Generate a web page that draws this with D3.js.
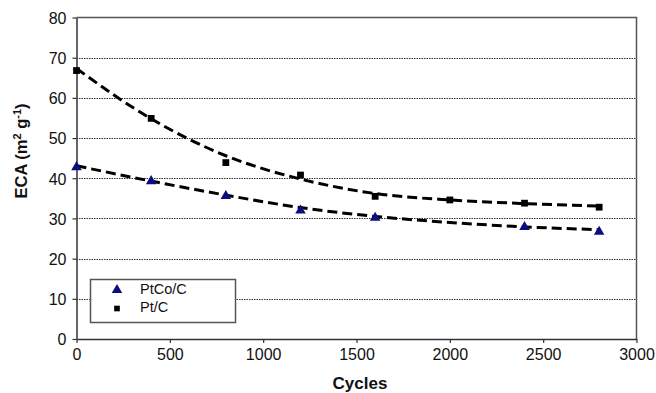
<!DOCTYPE html>
<html>
<head>
<meta charset="utf-8">
<script src="https://cdn.jsdelivr.net/npm/d3@7"></script>
<style>
  body { margin: 0; background: #fff; }
  svg { display: block; font-family: Arial, "Liberation Sans", sans-serif; }
</style>
</head>
<body>
<div id="chart"></div>
<script>
// measured points
const ptcoCycles = [0, 400, 800, 1200, 1600, 2400, 2800];
const ptcoEca = [42.9, 39.4, 35.7, 32.1, 30.3, 28.0, 26.8];
const ptCycles = [0, 400, 800, 1200, 1600, 2000, 2400, 2800];
const ptEca = [66.8, 54.9, 43.9, 40.8, 35.5, 34.6, 33.8, 32.8];

// dashed trend lines
const trendCycles = [0, 400, 800, 1200, 1600, 2000, 2400, 2800];
const ptcoTrend = [43.1, 39.3, 35.8, 32.7, 30.5, 29.0, 27.9, 27.2];
const ptTrend = [67.3, 54.8, 45.6, 39.8, 36.2, 34.6, 33.7, 33.1];

const xTicks = [0, 500, 1000, 1500, 2000, 2500, 3000];
const yTicks = [0, 10, 20, 30, 40, 50, 60, 70, 80];

const width = 656, height = 393;
const margin = { top: 17.5, right: 19.5, bottom: 54, left: 76.5 };

const svg = d3.select('#chart')
    .append('svg')
    .attr('width', width)
    .attr('height', height);

const x = d3.scaleLinear().domain([0, 3000]).range([margin.left, width - margin.right]);
const y = d3.scaleLinear().domain([0, 80]).range([height - margin.bottom, margin.top]);

// dotted grid
svg.append('g')
    .selectAll('line')
    .data(yTicks.filter(d => d > 0 && d < 80))
    .enter()
    .append('line')
    .attr('x1', x(0))
    .attr('x2', x(3000))
    .attr('y1', d => Math.round(y(d)) + 0.5)
    .attr('y2', d => Math.round(y(d)) + 0.5)
    .attr('stroke', '#333')
    .attr('stroke-width', 1)
    .attr('stroke-dasharray', '1.5,1');

// plot frame (top and right)
svg.append('path')
    .attr('d', `M${x(0)},${y(80)}H${x(3000)}V${y(0)}`)
    .attr('fill', 'none')
    .attr('stroke', '#555')
    .attr('stroke-width', 1.5);

const xAxis = svg.append('g')
    .attr('transform', `translate(0,${y(0)})`)
    .call(d3.axisBottom(x).tickValues(xTicks).tickFormat(d3.format('d'))
        .tickSize(4).tickSizeOuter(0).tickPadding(6));

const yAxis = svg.append('g')
    .attr('transform', `translate(${x(0)},0)`)
    .call(d3.axisLeft(y).tickValues(yTicks).tickSize(4).tickSizeOuter(0).tickPadding(6));

[xAxis, yAxis].forEach(g => {
    g.select('.domain').attr('stroke', '#333').attr('stroke-width', 1.5);
    g.selectAll('.tick line').attr('stroke', '#333').attr('stroke-width', 1.2);
    g.selectAll('.tick text')
        .attr('fill', '#111')
        .style('font-size', '16px')
        .style('font-family', 'Arial, "Liberation Sans", sans-serif');
});
yAxis.selectAll('.tick text').attr('dy', '0.36em');

// trend lines
const line = d3.line()
    .x(d => x(d[0]))
    .y(d => y(d[1]))
    .curve(d3.curveMonotoneX);

[ptTrend, ptcoTrend].forEach(vals => {
    svg.append('path')
        .datum(trendCycles.map((c, i) => [c, vals[i]]))
        .attr('d', line)
        .attr('fill', 'none')
        .attr('stroke', '#000')
        .attr('stroke-width', 3)
        .attr('stroke-dasharray', '10,5');
});

// markers
const tri = d3.symbol().type(d3.symbolTriangle).size(48);
const sq = d3.symbol().type(d3.symbolSquare).size(46);

svg.append('g')
    .selectAll('path')
    .data(ptCycles.map((c, i) => [c, ptEca[i]]))
    .enter()
    .append('path')
    .attr('d', sq)
    .attr('transform', d => `translate(${x(d[0])},${y(d[1])})`)
    .attr('fill', '#000');

svg.append('g')
    .selectAll('path')
    .data(ptcoCycles.map((c, i) => [c, ptcoEca[i]]))
    .enter()
    .append('path')
    .attr('d', tri)
    .attr('transform', d => `translate(${x(d[0])},${y(d[1]) + 0.5})`)
    .attr('fill', '#0d0d80');

// axis titles
svg.append('text')
    .attr('x', 360)
    .attr('y', 389)
    .attr('text-anchor', 'middle')
    .style('font-size', '17px')
    .style('font-weight', 'bold')
    .attr('fill', '#111')
    .text('Cycles');

const yTitle = svg.append('text')
    .attr('transform', 'translate(27,151) rotate(-90)')
    .attr('text-anchor', 'middle')
    .style('font-size', '16.5px')
    .style('font-weight', 'bold')
    .attr('fill', '#111');
yTitle.append('tspan').text('ECA (m');
yTitle.append('tspan').attr('dy', -6).style('font-size', '11px').text('2');
yTitle.append('tspan').attr('dy', 6).text(' g');
yTitle.append('tspan').attr('dy', -6).style('font-size', '11px').text('-1');
yTitle.append('tspan').attr('dy', 6).text(')');

// legend
const legend = svg.append('g');
legend.append('rect')
    .attr('x', 90.5)
    .attr('y', 279.5)
    .attr('width', 145)
    .attr('height', 43)
    .attr('fill', '#fff')
    .attr('stroke', '#555')
    .attr('stroke-width', 1.5);

legend.append('path')
    .attr('d', tri)
    .attr('transform', 'translate(117,290)')
    .attr('fill', '#0d0d80');
legend.append('path')
    .attr('d', d3.symbol().type(d3.symbolSquare).size(32))
    .attr('transform', 'translate(117,308.5)')
    .attr('fill', '#000');

legend.append('text')
    .attr('x', 140)
    .attr('y', 293.5)
    .style('font-size', '14.5px')
    .attr('fill', '#111')
    .text('PtCo/C');
legend.append('text')
    .attr('x', 140)
    .attr('y', 312)
    .style('font-size', '14.5px')
    .attr('fill', '#111')
    .text('Pt/C');
</script>
</body>
</html>
